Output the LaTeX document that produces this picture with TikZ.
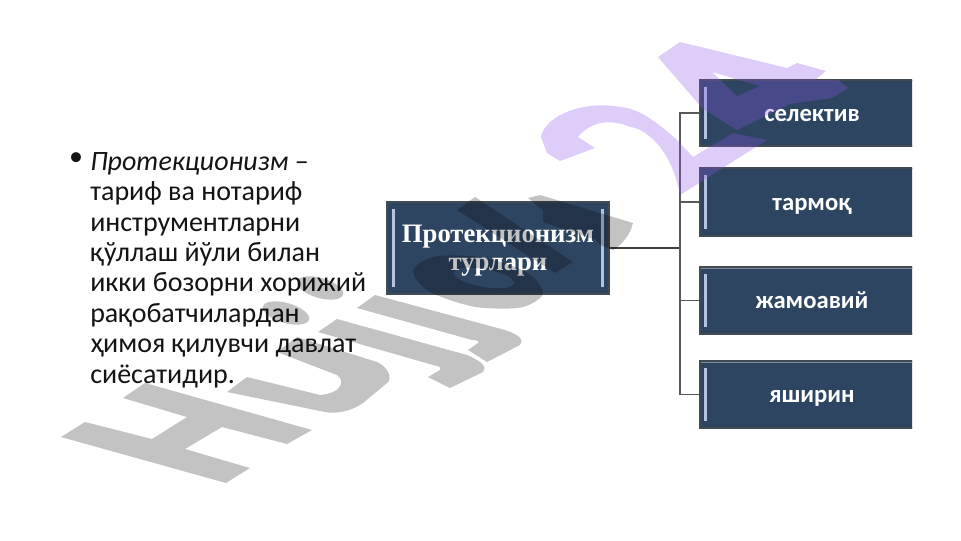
\documentclass[tikz,border=0pt]{standalone}
\usepackage{fontspec}
\setmainfont{Carlito}
\newfontfamily\titlefont{Liberation Serif}
\usetikzlibrary{arrows}
\definecolor{boxfill}{HTML}{2E4562}
\definecolor{boxedge}{HTML}{434B52}
\definecolor{boxstrip}{HTML}{7F8C98}
\definecolor{bevel}{HTML}{B4C4E0}
\definecolor{wmpurple}{RGB}{138,83,231}
\tikzstyle{bevelline} = [line width=1.8pt, color=bevel]
\tikzstyle{stripline} = [line width=2pt, color=boxstrip]
\tikzstyle{mainbox} = [rectangle, minimum width=166.5pt, minimum height=69pt, inner sep=0pt, align=center, draw=boxedge, line width=1.1pt, fill=boxfill, text=white, font=\titlefont\fontsize{20}{21}\selectfont\bfseries,
  path picture={\draw [stripline] (path picture bounding box.north west) -- (path picture bounding box.north east);
  \draw [stripline] (path picture bounding box.south west) -- (path picture bounding box.south east);
  \draw [bevelline] ([shift={(5pt,-5pt)}]path picture bounding box.north west) -- ([shift={(5pt,5pt)}]path picture bounding box.south west);
  \draw [bevelline] ([shift={(-5pt,-5pt)}]path picture bounding box.north east) -- ([shift={(-5pt,5pt)}]path picture bounding box.south east);}]
\tikzstyle{subbox} = [rectangle, minimum width=168pt, inner sep=0pt, text height=12.5pt, text depth=0pt, align=center, draw=boxedge, line width=1.1pt, fill=boxfill, text=white, font=\fontsize{18.5}{20}\selectfont\bfseries,
  path picture={\draw [stripline] (path picture bounding box.north west) -- (path picture bounding box.north east);
  \draw [stripline] (path picture bounding box.south west) -- (path picture bounding box.south east);
  \draw [bevelline] ([shift={(4pt,-5pt)}]path picture bounding box.north west) -- ([shift={(4pt,5pt)}]path picture bounding box.south west);}]
\tikzstyle{trunkline} = [line width=1pt, color=black!75]
\tikzstyle{branchline} = [line width=.8pt, color=black!65]
\tikzstyle{bodytext} = [inner sep=0pt, align=left, text=black!92, font=\fontsize{21}{22.8}\selectfont]
\tikzstyle{wmgray} = [fill=black, fill opacity=.235]
\tikzstyle{wmviolet} = [fill=wmpurple, fill opacity=.29]

\begin{document}
\begin{tikzpicture}[x=.75pt, y=-.75pt]
    \useasboundingbox [fill=white] (0,0) rectangle (961,540);
    \node [bodytext, anchor=north] at (76,152) (bullet) {•};
    \node [bodytext, anchor=north west] at (90,152) (body) {\textit{Протекционизм} –\\тариф ва нотариф\\инструментларни\\қўллаш йўли билан\\икки бозорни хорижий\\рақобатчилардан\\ҳимоя қилувчи давлат\\сиёсатидир.};
    \node [mainbox] at (498,248) (main) {\rule{0pt}{17pt}Протекционизм\\турлари};
    \begin{scope}
        \clip (690,70) rectangle (912,440);
        \node [subbox, minimum height=49.5pt] at (812,113) (selective) {селектив};
        \node [subbox, minimum height=51pt] at (812,202) (network) {тармоқ};
        \node [subbox, minimum height=50pt] at (812,300.5) (group) {жамоавий};
        \node [subbox, minimum height=50pt] at (812,394.5) (hidden) {яширин};
    \end{scope}
    \coordinate (trunk) at (680,248);
    \draw [trunkline] (main.east) -- (trunk);
    \draw [branchline] (trunk) |- (selective.west);
    \draw [branchline] (trunk) |- (network.west);
    \draw [branchline] (trunk) |- (group.west);
    \draw [branchline] (trunk) |- (hidden.west);
    % H
    \fill [wmgray] (61,437) -- (85,422) -- (152,439) -- (187,417) -- (123,398) -- (145,383) -- (312,430) -- (287,444) -- (222,427) -- (185,449) -- (250,468) -- (226,483) -- cycle;
    % u
    \fill [wmgray] (227,392) -- (247,377) -- (320,395) .. controls (343,393) and (345,380) .. (337,375) -- (277,352) -- (297,337) -- (377,362) .. controls (390,368) and (392,380) .. (387,383) -- (363,403) .. controls (350,412) and (335,414) .. (325,412) -- cycle;
    % j j
    \fill [wmgray] (318,332) -- (337,319) -- (467,355) .. controls (483,362) and (487,367) .. (483,372) -- (450,388) -- (428,377) -- (440,370) .. controls (442,367) and (438,366) .. (433,365) -- cycle;
    \fill [wmgray] (357,308) -- (375,295) -- (505,330) .. controls (520,335) and (524,340) .. (520,345) -- (487,362) -- (468,350) -- (478,343) .. controls (480,341) and (476,340) .. (472,340) -- cycle;
    \fill [wmgray, rotate around={-16:(286,313)}] (286,313) ellipse [x radius=24, y radius=10];
    \fill [wmgray, rotate around={-16:(320,288)}] (320,288) ellipse [x radius=24, y radius=10];
    % a
    \fill [wmgray] (457,210) -- (475,197) -- (573,262) -- (555,273) -- cycle
        plot [smooth cycle] coordinates {(543,293.5) (520.9,307.5) (473.6,306.6) (428.9,291.3) (413,270.5) (435.1,256.5) (482.4,257.4) (527.1,272.7)}
        plot [smooth cycle] coordinates {(514.5,283.4) (506.7,275.5) (485.6,269.1) (463.5,267.9) (453.5,272.6) (461.3,280.5) (482.4,286.9) (504.5,288.1)};
    % t
    \fill [wmgray] (543,210) -- (528,198) -- (540,195) -- (633,223) .. controls (630,235) and (622,245) .. (613,250) -- (600,245) -- (596,240) -- (543,222) -- cycle;
    % 2
    \fill [wmviolet] (541,137) .. controls (545,115) and (585,100) .. (620,107) .. controls (640,108) and (660,125) .. (677,140) -- (693,157) -- (733,133) -- (767,140) -- (680,195) .. controls (676,175) and (670,160) .. (660,147) .. controls (650,135) and (640,128) .. (630,127) .. controls (610,118) and (590,122) .. (578,137) -- (595,148) -- (560,161) -- (547,153) -- cycle;
    % 4
    \fill [wmviolet, even odd rule] (658,57) -- (680,42) -- (787,68) -- (797,63) -- (826,71) -- (815,80) -- (838,80) -- (848,88) -- (832,98) -- (790,104) -- (737,130) -- (702,108) -- cycle
        (712,72) -- (760,86) -- (737,96) -- cycle;
\end{tikzpicture}
\end{document}
